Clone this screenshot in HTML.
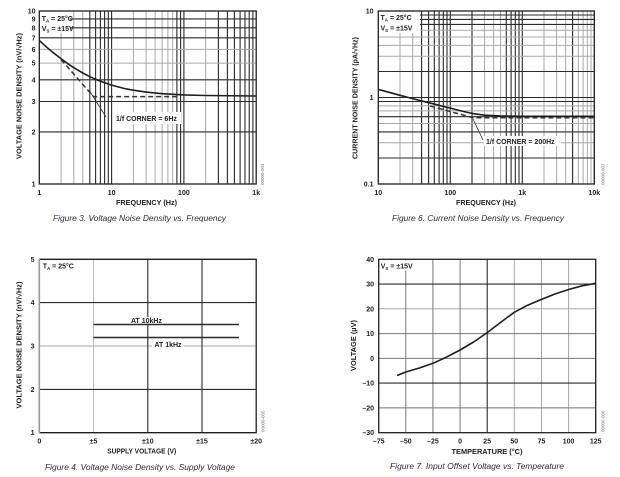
<!DOCTYPE html>
<html><head><meta charset="utf-8"><style>
html,body{margin:0;padding:0;background:#fff;}
svg{display:block;}
text{font-family:"Liberation Sans",Arial,sans-serif;}
.t{font-size:7px;font-weight:bold;fill:#1e1e1e;}
.cap{font-size:8.5px;font-style:italic;fill:#2b2b3b;}
.sc{font-size:4.5px;fill:#777;}
.d{stroke:#2a2a2a;stroke-width:1.1;fill:none;}
.g{stroke:#a8a8a8;stroke-width:1;fill:none;}
.m{stroke:#777;stroke-width:1;fill:none;}
.ax{stroke:#1e1e1e;stroke-width:1.3;fill:none;}
.cv{stroke:#1e1e1e;stroke-width:1.6;fill:none;stroke-linejoin:round;}
.ds{stroke:#333;stroke-width:1.5;fill:none;stroke-dasharray:5 3;}
</style></head><body>
<svg width="620" height="477" viewBox="0 0 620 477" xmlns="http://www.w3.org/2000/svg">
<rect width="620" height="477" fill="#fff"/>

<!-- ============ CHART 1 ============ -->
<g>
<path class="g" d="M61.1 11V184M73.8 11V184M82.8 11V184M133.4 11V184M146.1 11V184M155.1 11V184M162.1 11V184M167.9 11V184M172.7 11V184M205.6 11V184"/>
<path class="d" d="M89.8 11V184M95.6 11V184M100.4 11V184M104.6 11V184M108.3 11V184M111.6 11V184M176.9 11V184M180.6 11V184M183.9 11V184M218.4 11V184M227.4 11V184M234.4 11V184M240.1 11V184M245.0 11V184M249.2 11V184M252.9 11V184"/>
<path class="g" d="M39.3 63.1H256.2M39.3 49.4H256.2"/>
<path class="d" d="M39.3 131.9H256.2M39.3 101.5H256.2M39.3 79.8H256.2M39.3 37.8H256.2M70 27.8H256.2M70 18.9H256.2"/>
<rect class="ax" x="39.3" y="11" width="216.9" height="173"/>
<polyline class="cv" points="39.3,40.5 46.3,46.8 52,51.7 61.1,58.8 68.1,63.9 73.8,67.7 82.8,73 89.8,76.7 95.6,79.3 104.6,82.8 111.6,85.1 124.3,88.5 133.4,90.2 146.1,92.1 162.1,93.7 183.9,94.9 205.6,95.5 256.2,96"/>
<path class="ds" d="M61 59.5L93.5 96.6H177"/>
<path stroke="#333" stroke-width="0.8" fill="none" d="M89 90L106 117"/>
<rect x="113" y="112" width="68" height="12" fill="#fff"/>
<text class="t" x="116" y="121">1/f CORNER = 6Hz</text>
<rect x="40" y="12" width="30" height="21" fill="#fff"/>
<text class="t" x="41.7" y="21">T<tspan font-size="4.5" dy="1.5">A</tspan><tspan dy="-1.5"> = 25°C</tspan></text>
<text class="t" x="41.7" y="31">V<tspan font-size="4.5" dy="1.5">S</tspan><tspan dy="-1.5"> = ±15V</tspan></text>
<g class="t" text-anchor="end">
<text x="35.5" y="13.5">10</text><text x="35.5" y="21.4">9</text><text x="35.5" y="30.3">8</text><text x="35.5" y="40.3">7</text><text x="35.5" y="51.9">6</text><text x="35.5" y="65.6">5</text><text x="35.5" y="82.3">4</text><text x="35.5" y="104">3</text><text x="35.5" y="134.4">2</text><text x="35.5" y="186.5">1</text>
</g>
<g class="t" text-anchor="middle">
<text x="39.3" y="195">1</text><text x="111.6" y="195">10</text><text x="183.9" y="195">100</text><text x="256.2" y="195">1k</text>
<text x="146.5" y="205" textLength="61" lengthAdjust="spacingAndGlyphs">FREQUENCY (Hz)</text>
<text transform="translate(21.5,96) rotate(-90)" textLength="126" lengthAdjust="spacingAndGlyphs">VOLTAGE NOISE DENSITY (nV/√Hz)</text>
</g>
<text class="sc" transform="translate(264,185) rotate(-90)">00000-004</text>
<text class="cap" x="139.5" y="221" text-anchor="middle" textLength="173" lengthAdjust="spacingAndGlyphs">Figure 3. Voltage Noise Density vs. Frequency</text>
</g>

<!-- ============ CHART 2 ============ -->
<g>
<path class="g" d="M400 11V184M412.7 11V184M484.6 11V184M493.6 11V184M500.6 11V184M544 11V184M556.6 11V184M565.6 11V184M578.3 11V184M583.1 11V184M587.3 11V184M591 11V184"/>
<path class="d" d="M421.6 11V184M428.6 11V184M434.3 11V184M439.1 11V184M443.3 11V184M447 11V184M450.3 11V184M472 11V184M506.3 11V184M511.1 11V184M515.3 11V184M519 11V184M522.3 11V184M572.6 11V184"/>
<path class="g" d="M378.3 37H594.3M378.3 45.4H594.3M378.3 56.2H594.3M378.3 105.9H594.3M378.3 110.9H594.3M378.3 123.5H594.3M378.3 142.7H594.3M420 30.2H594.3"/>
<path class="d" d="M420 15H594.3M420 19.4H594.3M420 24.4H594.3M378.3 71.5H594.3M378.3 97.5H594.3M378.3 101.5H594.3M378.3 116.7H594.3M378.3 131.9H594.3M378.3 158H594.3"/>
<rect class="ax" x="378.3" y="11" width="216" height="173"/>
<polyline class="cv" points="378.3,89.4 400,95.3 412.7,98.6 428.6,102.7 450.3,108.1 463,111.4 472,113.4 484.6,115.2 500.6,115.9 522.3,116.3 594.3,116.3"/>
<path class="ds" d="M430 106L473 117.7H594"/>
<path stroke="#333" stroke-width="0.8" fill="none" d="M473 119L483 140"/>
<rect x="484" y="136" width="77" height="10" fill="#fff"/>
<text class="t" x="486" y="144">1/f CORNER = 200Hz</text>
<rect x="379" y="12" width="41" height="21" fill="#fff"/>
<text class="t" x="380.5" y="20">T<tspan font-size="4.5" dy="1.5">A</tspan><tspan dy="-1.5"> = 25°C</tspan></text>
<text class="t" x="380.5" y="30.5">V<tspan font-size="4.5" dy="1.5">S</tspan><tspan dy="-1.5"> = ±15V</tspan></text>
<g class="t" text-anchor="end">
<text x="373.5" y="13.5">10</text><text x="373.5" y="100">1</text><text x="373.5" y="186.5">0.1</text>
</g>
<g class="t" text-anchor="middle">
<text x="378.3" y="195">10</text><text x="450.3" y="195">100</text><text x="522.3" y="195">1k</text><text x="594.3" y="195">10k</text>
<text x="486" y="205" textLength="60" lengthAdjust="spacingAndGlyphs">FREQUENCY (Hz)</text>
<text transform="translate(357.5,98) rotate(-90)" textLength="122" lengthAdjust="spacingAndGlyphs">CURRENT NOISE DENSITY (pA/√Hz)</text>
</g>
<text class="sc" transform="translate(604.5,185) rotate(-90)">00000-007</text>
<text class="cap" x="478" y="221" text-anchor="middle" textLength="172" lengthAdjust="spacingAndGlyphs">Figure 6. Current Noise Density vs. Frequency</text>
</g>

<!-- ============ CHART 3 ============ -->
<g>
<path stroke="#bbb" stroke-width="1" d="M93.5 259.3V432.7"/>
<path class="g" d="M39.3 346H256.2"/>
<path class="d" d="M147.8 259.3V432.7M202 259.3V432.7M39.3 389.4H256.2M39.3 302.6H256.2"/>
<path stroke="#1e1e1e" stroke-width="1.3" fill="none" d="M39.3 259.3H256.2V432.7H39.3"/>
<path stroke="#999" stroke-width="1.6" d="M39.3 258.7V433.3"/>
<path stroke="#2a2a2a" stroke-width="1.5" d="M93.5 324.5H239"/>
<path stroke="#2a2a2a" stroke-width="1.5" d="M93.5 337.5H239"/>
<rect x="127" y="317" width="39" height="6.5" fill="#fff"/>
<text class="t" x="146.5" y="323" text-anchor="middle">AT 10kHz</text>
<rect x="152" y="341" width="32" height="8" fill="#fff"/>
<text class="t" x="168" y="347" text-anchor="middle">AT 1kHz</text>
<rect x="41" y="261" width="36" height="10" fill="#fff"/>
<text class="t" x="42.7" y="268.5">T<tspan font-size="4.5" dy="1.5">A</tspan><tspan dy="-1.5"> = 25°C</tspan></text>
<g class="t" text-anchor="end">
<text x="34.5" y="261.8">5</text><text x="34.5" y="305.1">4</text><text x="34.5" y="348.5">3</text><text x="34.5" y="391.9">2</text><text x="34.5" y="435.2">1</text>
</g>
<g class="t" text-anchor="middle">
<text x="39.3" y="443.5">0</text><text x="93.5" y="443.5">±5</text><text x="147.8" y="443.5">±10</text><text x="202" y="443.5">±15</text><text x="256.2" y="443.5">±20</text>
<text x="141.7" y="453.7" textLength="69" lengthAdjust="spacingAndGlyphs">SUPPLY VOLTAGE (V)</text>
<text transform="translate(21.5,345) rotate(-90)" textLength="127" lengthAdjust="spacingAndGlyphs">VOLTAGE NOISE DENSITY (nV/√Hz)</text>
</g>
<text class="sc" transform="translate(264.5,432) rotate(-90)">00000-005</text>
<text class="cap" x="140" y="470" text-anchor="middle" textLength="190" lengthAdjust="spacingAndGlyphs">Figure 4. Voltage Noise Density vs. Supply Voltage</text>
</g>

<!-- ============ CHART 4 ============ -->
<g>
<path class="g" d="M514.3 259.3V432.7M541.5 259.3V432.7M568.6 259.3V432.7M378.7 308.8H595.7"/>
<path class="m" d="M405.8 259.3V432.7M432.9 259.3V432.7M460.1 259.3V432.7M378.7 333.6H595.7M378.7 358.4H595.7M378.7 407.9H595.7"/>
<path class="d" d="M487.2 259.3V432.7M378.7 284.1H595.7M378.7 383.1H595.7"/>
<rect class="ax" x="378.7" y="259.3" width="217" height="173.4"/>
<rect x="380" y="260.5" width="37" height="10" fill="#fff"/>
<text class="t" x="380.7" y="268.5">V<tspan font-size="4.5" dy="1.5">S</tspan><tspan dy="-1.5"> = ±15V</tspan></text>
<polyline class="cv" points="397.1,375.5 405.8,372 419.4,368 433,363.3 446.5,357.1 460.1,350 473.6,342 487.2,332.6 500.8,322.2 514.3,312.3 527.9,305.1 541.5,299.4 555,294 568.6,289.5 582.1,285.8 595.7,283.3"/>
<g class="t" text-anchor="end">
<text x="374" y="261.8">40</text><text x="374" y="286.6">30</text><text x="374" y="311.3">20</text><text x="374" y="336.1">10</text><text x="374" y="360.9">0</text><text x="374" y="385.6">–10</text><text x="374" y="410.4">–20</text><text x="374" y="435.2">–30</text>
</g>
<g class="t" text-anchor="middle">
<text x="378.7" y="443.5">–75</text><text x="405.8" y="443.5">–50</text><text x="432.9" y="443.5">–25</text><text x="460.1" y="443.5">0</text><text x="487.2" y="443.5">25</text><text x="514.3" y="443.5">50</text><text x="541.5" y="443.5">75</text><text x="568.6" y="443.5">100</text><text x="595.7" y="443.5">125</text>
<text x="487" y="454" textLength="71" lengthAdjust="spacingAndGlyphs">TEMPERATURE (°C)</text>
<text transform="translate(355.8,345.5) rotate(-90)" textLength="51" lengthAdjust="spacingAndGlyphs">VOLTAGE (µV)</text>
</g>
<text class="sc" transform="translate(604.5,432) rotate(-90)">00000-006</text>
<text class="cap" x="477" y="469" text-anchor="middle" textLength="174" lengthAdjust="spacingAndGlyphs">Figure 7. Input Offset Voltage vs. Temperature</text>
</g>
</svg>
</body></html>
